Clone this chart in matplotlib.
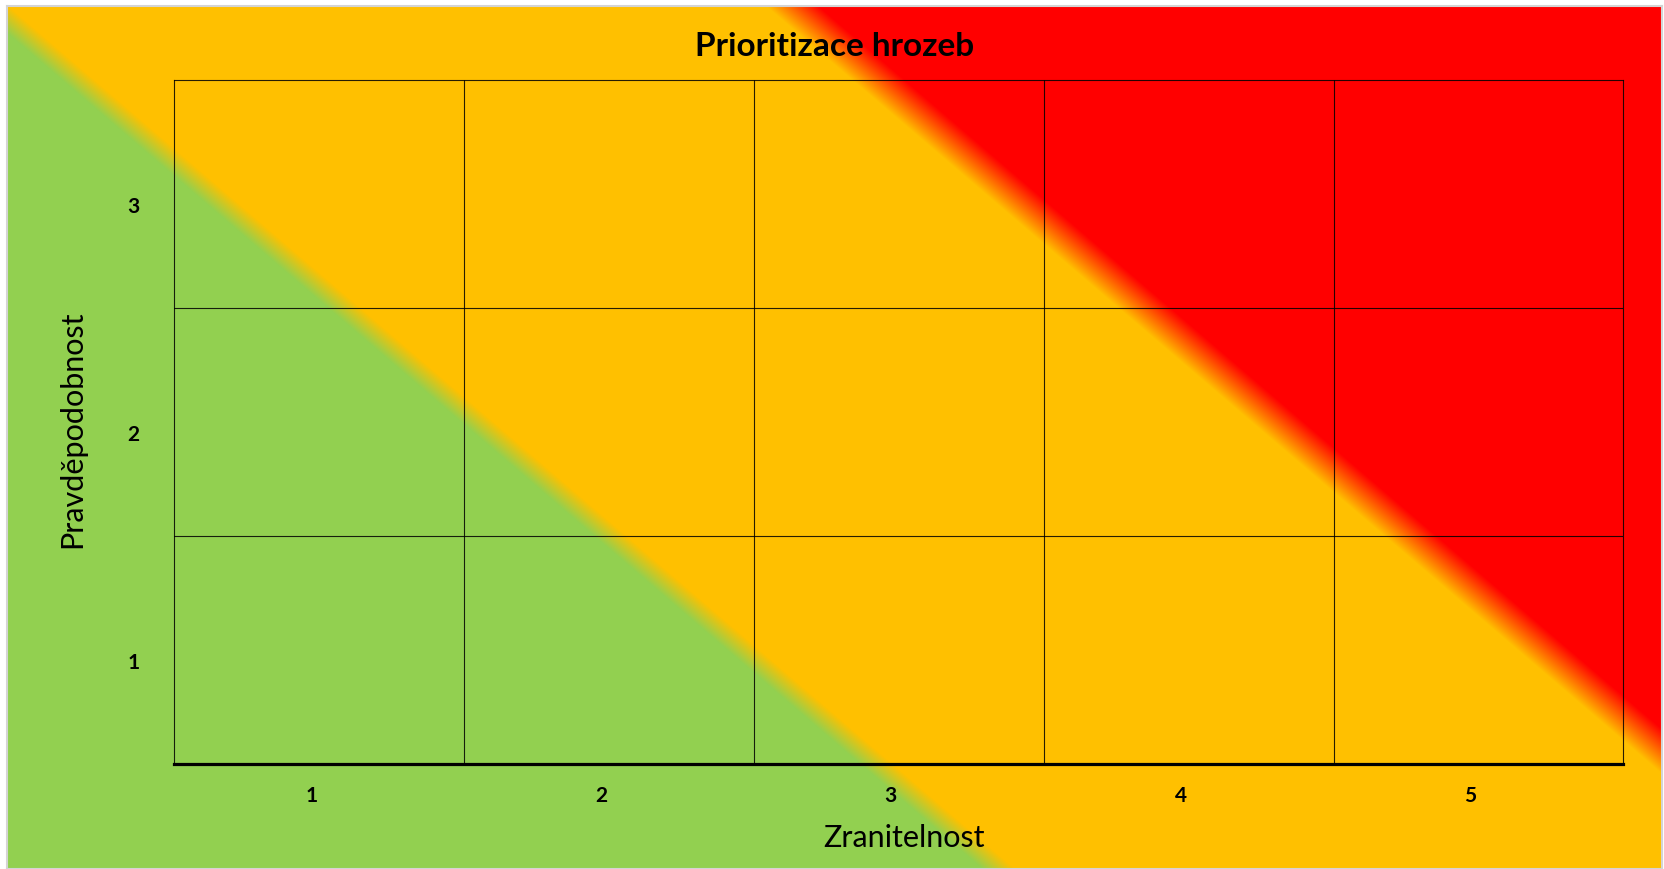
import numpy as np
import matplotlib
matplotlib.use("Agg")
import matplotlib.pyplot as plt
import matplotlib.transforms as mtransforms

plt.rcParams['font.family'] = ['Lato', 'DejaVu Sans']

# data: risk matrix categories
zranitelnost = [1, 2, 3, 4, 5]      # x categories
pravdepodobnost = [1, 2, 3]         # y categories
x_labels = ['1', '2', '3', '4', '5']
y_labels = ['1', '2', '3']
title = 'Prioritizace hrozeb'
x_title = 'Zranitelnost'
y_title = 'Pravděpodobnost'

# colours of the risk zones
green = np.array([146, 208, 80]) / 255
orange = np.array([255, 192, 0]) / 255
red = np.array([255, 0, 0]) / 255

W, H = 1664, 870
fig = plt.figure(figsize=(W / 100, H / 100), dpi=100)
fig.patch.set_facecolor('white')

# background panel with the diagonal gradient (pixel coordinates, y down)
x0, x1, y0, y1 = 7, 1662, 7, 870
bg = fig.add_axes([x0 / W, 0, (x1 - x0) / W, (y1 - y0) / H], zorder=0)
xx, yy = np.meshgrid(np.arange(x0, x1) + 0.5, np.arange(y0, y1) + 0.5)
s = yy - 0.857 * xx
g = np.clip((s - 14) / 28 + 0.5, 0, 1)[..., None]
r = np.clip((-672 - s) / 45 + 0.5, 0, 1)[..., None]
img = g * green + r * red + (1 - g - r) * orange
bg.imshow(img, extent=[x0, x1, y1, y0], aspect='auto', interpolation='bilinear')
bg.set_xlim(x0, x1)
bg.set_ylim(y1, y0)
bg.set_xticks([])
bg.set_yticks([])
for sp in bg.spines.values():
    sp.set_color('#d4d4d4')
    sp.set_linewidth(1.5)

# main matrix
L, R, T, B = 174.3, 1623.3, 80.7, 765.0
ax = fig.add_axes([L / W, (H - B) / H, (R - L) / W, (B - T) / H], zorder=1)
ax.set_facecolor('none')
ax.set_xlim(min(zranitelnost) - 0.5, max(zranitelnost) + 0.5)
ax.set_ylim(min(pravdepodobnost) - 0.5, max(pravdepodobnost) + 0.5)

ax.set_xticks(zranitelnost)
ax.set_xticklabels(x_labels, fontsize=15, fontweight='bold')
ax.set_yticks(pravdepodobnost)
ax.set_yticklabels(y_labels, fontsize=15, fontweight='bold')
ax.set_xticks([v + 0.5 for v in zranitelnost[:-1]], minor=True)
ax.set_yticks([v + 0.5 for v in pravdepodobnost[:-1]], minor=True)
ax.tick_params(which='both', length=0)
ax.tick_params(axis='x', pad=15)
ax.tick_params(axis='y', pad=25)
ax.grid(which='minor', color='black', linewidth=0.8, alpha=0.85)
ax.grid(which='major', visible=False)

# small shift of the tick labels, like in the original
shift_x = mtransforms.ScaledTranslation(-8 / 100, 0, fig.dpi_scale_trans)
for lab in ax.get_xticklabels():
    lab.set_transform(lab.get_transform() + shift_x)
shift_y = mtransforms.ScaledTranslation(0, -10 / 100, fig.dpi_scale_trans)
for lab in ax.get_yticklabels():
    lab.set_transform(lab.get_transform() + shift_y)

for side in ['left', 'top', 'right']:
    ax.spines[side].set_linewidth(0.8)
    ax.spines[side].set_color('black')
    ax.spines[side].set_alpha(0.85)
ax.spines['bottom'].set_linewidth(2.3)

ax.set_xlabel(x_title, fontsize=22, va='center')
ax.xaxis.set_label_coords((904 - L) / (R - L), (B - 838) / (B - T))
ax.set_ylabel(y_title, fontsize=22, va='center')
ax.yaxis.set_label_coords((72 - L) / (R - L), (B - 429) / (B - T))

ax.text((834.5 - L) / (R - L), (B - 46) / (B - T), title, transform=ax.transAxes,
        ha='center', va='center', fontsize=24, fontweight='bold')

fig.savefig('out.png', dpi=100)
